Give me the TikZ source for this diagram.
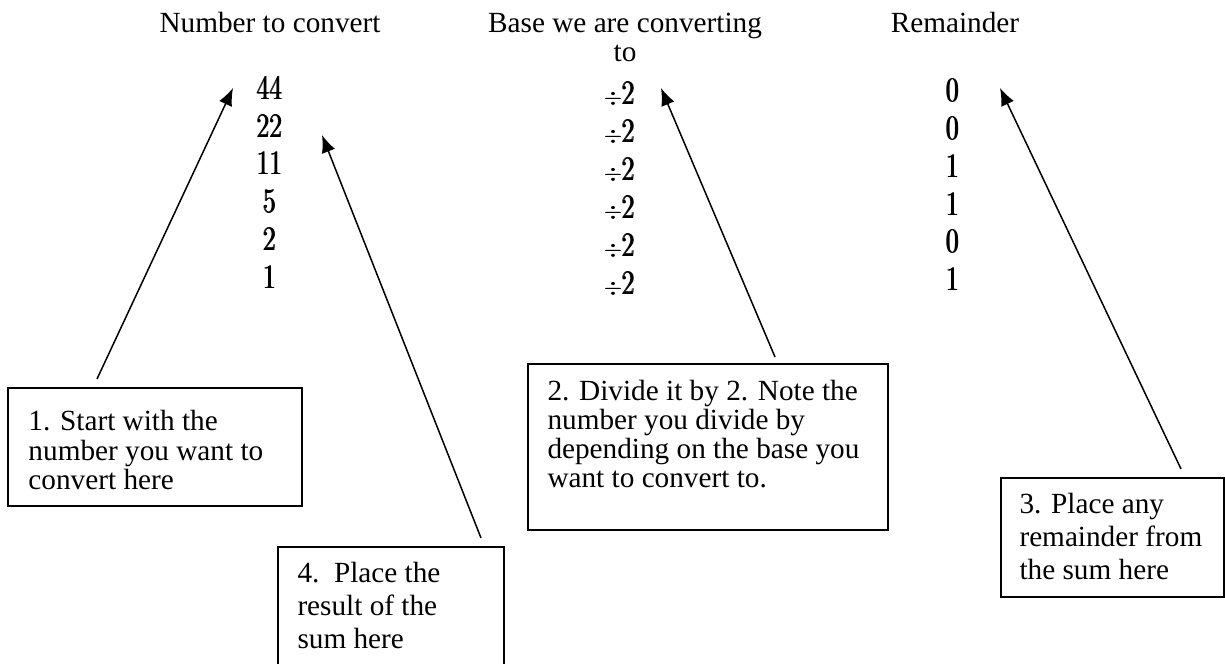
\documentclass[tikz,border=0pt]{standalone}
\usepackage{amsmath}
\usepackage{fontspec}
\setmainfont{Liberation Serif}
\usepackage{graphicx}
\usetikzlibrary{arrows.meta}
\newcommand\numtxt[1]{\scalebox{0.87}[1.14]{$\pmb{#1}$}}
\newcommand\divtwo{\scalebox{0.75}{$\pmb{\div}$}\numtxt{2}}
\begin{document}
\begin{tikzpicture}[x=0.4pt,y=-0.4pt,
  head/.style={font=\fontsize{11.7}{11.6}\selectfont, inner sep=0pt},
  num/.style={font=\fontsize{12}{12}\selectfont, inner sep=0pt, anchor=base},
  boxframe/.style={draw, line width=0.8pt, inner sep=0pt, anchor=north west},
  boxtext/.style={inner sep=0pt, anchor=north west, align=left},
  pointer/.style={line width=0.6pt, -{Latex[length=7pt,width=5.6pt]}}]
\useasboundingbox (0,0) rectangle (1225,664);
\clip (0,0) rectangle (1225,664);

% headers
\node[head, anchor=base] (h1) at (270,33) {Number to convert};
\node[head, anchor=north, align=center] (h2) at (625,13) {Base we are converting\\to};
\node[head, anchor=base] (h3) at (955,33) {Remainder};

% column 1
\node[num] (n1) at (270,100) {\numtxt{44}};
\node[num] (n2) at (270,138) {\numtxt{22}};
\node[num] (n3) at (270,175) {\numtxt{11}};
\node[num] (n4) at (270,213) {\numtxt{5}};
\node[num] (n5) at (270,251) {\numtxt{2}};
\node[num] (n6) at (270,289) {\numtxt{1}};

% column 2
\node[num] (d1) at (620,105) {\divtwo};
\node[num] (d2) at (620,143) {\divtwo};
\node[num] (d3) at (620,181) {\divtwo};
\node[num] (d4) at (620,219) {\divtwo};
\node[num] (d5) at (620,257) {\divtwo};
\node[num] (d6) at (620,295) {\divtwo};

% column 3
\node[num] (r1) at (953,102) {\numtxt{0}};
\node[num] (r2) at (953,140) {\numtxt{0}};
\node[num] (r3) at (953,178) {\numtxt{1}};
\node[num] (r4) at (953,216) {\numtxt{1}};
\node[num] (r5) at (953,253) {\numtxt{0}};
\node[num] (r6) at (953,291) {\numtxt{1}};

% boxes
\node[boxframe, minimum width=117.6pt, minimum height=47.2pt] (b1) at (7,387) {};
\node[boxtext, font=\fontsize{11.7}{11.8}\selectfont] (t1) at (28,410)
  {1. Start with the\\number you want to\\convert here};

\node[boxframe, minimum width=144pt, minimum height=66.4pt] (b2) at (527,363) {};
\node[boxtext, font=\fontsize{11.7}{11.6}\selectfont] (t2) at (547,380)
  {2. Divide it by 2. Note the\\number you divide by\\depending on the base you\\want to convert to.};

\node[boxframe, minimum width=89.2pt, minimum height=47.6pt] (b3) at (1000,477) {};
\node[boxtext, font=\fontsize{11.7}{13.2}\selectfont] (t3) at (1019,493)
  {3. Place any\\remainder from\\the sum here};

\node[boxframe, minimum width=90.4pt, minimum height=57.6pt] (b4) at (277,546) {};
\node[boxtext, font=\fontsize{11.7}{13.2}\selectfont] (t4) at (297,562)
  {4.\ \ Place the\\result of the\\sum here};

% arrow ends
\coordinate (s1) at (97,379);   \coordinate (e1) at (233,88);
\coordinate (s2) at (775,357);  \coordinate (e2) at (661,88);
\coordinate (s3) at (1181,469); \coordinate (e3) at (1000,88);
\coordinate (s4) at (481,538);  \coordinate (e4) at (322,135);

\draw[pointer] (s1) -- (e1);
\draw[pointer] (s2) -- (e2);
\draw[pointer] (s3) -- (e3);
\draw[pointer] (s4) -- (e4);
\end{tikzpicture}
\end{document}
